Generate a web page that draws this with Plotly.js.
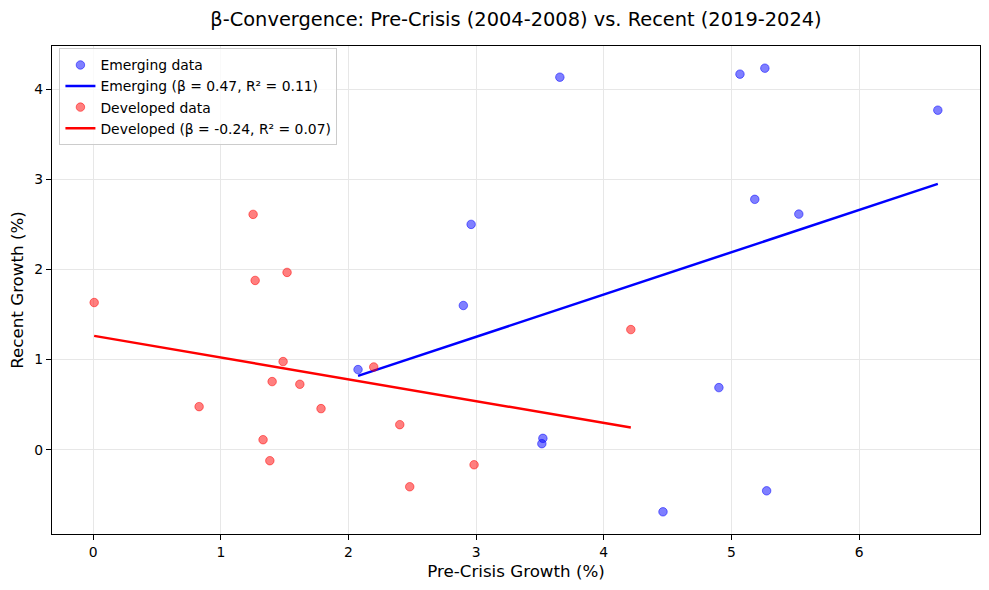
<!DOCTYPE html>
<html>
<head>
<meta charset="utf-8">
<script src="https://cdn.plot.ly/plotly-3.0.1.min.js"></script>
<style>html,body{margin:0;padding:0;background:#fff;}#chart{width:989px;height:590px;}</style>
</head>
<body>
<div id="chart"></div>
<script>
// Emerging economies: pre-crisis growth (x) vs recent growth (y), %
const emergingPre    = [3.656, 5.067, 5.262, 6.617, 5.183, 5.528, 2.961, 2.900, 3.523, 3.515, 4.902, 5.276, 4.464, 2.075];
const emergingRecent = [4.133, 4.167, 4.233, 3.767, 2.778, 2.614, 2.500, 1.600, 0.126, 0.067, 0.689, -0.456, -0.689, 0.889];
// Developed economies
const developedPre    = [0.008, 1.253, 1.269, 1.519, 1.488, 1.402, 1.619, 0.830, 1.785, 2.198, 2.402, 1.331, 1.384, 2.480, 2.984, 4.212];
const developedRecent = [1.633, 2.611, 1.878, 1.967, 0.978, 0.756, 0.726, 0.478, 0.456, 0.918, 0.278, 0.111, -0.122, -0.411, -0.167, 1.333];

const xTicks = [0, 1, 2, 3, 4, 5, 6];
const yTicks = [0, 1, 2, 3, 4];

function fit(x, y) {
  const n = x.length;
  const mx = x.reduce((a, b) => a + b, 0) / n;
  const my = y.reduce((a, b) => a + b, 0) / n;
  let sxy = 0, sxx = 0, syy = 0;
  for (let i = 0; i < n; i++) {
    sxy += (x[i] - mx) * (y[i] - my);
    sxx += (x[i] - mx) ** 2;
    syy += (y[i] - my) ** 2;
  }
  const b = sxy / sxx;
  const a = my - b * mx;
  const r2 = (sxy * sxy) / (sxx * syy);
  return {a, b, r2};
}

function lineOf(x, f) {
  const xs = [Math.min(...x), Math.max(...x)];
  return {x: xs, y: xs.map(v => f.a + f.b * v)};
}

const fe = fit(emergingPre, emergingRecent);
const fd = fit(developedPre, developedRecent);
const le = lineOf(emergingPre, fe);
const ld = lineOf(developedPre, fd);

const font = 'DejaVu Sans, sans-serif';

const traces = [
  {x: emergingPre, y: emergingRecent, mode: 'markers', type: 'scatter', name: 'Emerging data',
   marker: {color: 'rgba(0,0,255,0.5)', size: 8.5, line: {color: 'rgba(0,0,255,0.5)', width: 1}}},
  {x: le.x, y: le.y, mode: 'lines', type: 'scatter',
   name: `Emerging (β = ${fe.b.toFixed(2)}, R² = ${fe.r2.toFixed(2)})`,
   line: {color: 'blue', width: 2.5}},
  {x: developedPre, y: developedRecent, mode: 'markers', type: 'scatter', name: 'Developed data',
   marker: {color: 'rgba(255,0,0,0.5)', size: 8.5, line: {color: 'rgba(255,0,0,0.5)', width: 1}}},
  {x: ld.x, y: ld.y, mode: 'lines', type: 'scatter',
   name: `Developed (β = ${fd.b.toFixed(2)}, R² = ${fd.r2.toFixed(2)})`,
   line: {color: 'red', width: 2.5}}
];

const allX = emergingPre.concat(developedPre);
const allY = emergingRecent.concat(developedRecent);
const xmin = Math.min(...allX), xmax = Math.max(...allX);
const ymin = Math.min(...allY), ymax = Math.max(...allY);
const px = 0.05 * (xmax - xmin), py = 0.05 * (ymax - ymin);

const layout = {
  width: 989, height: 590,
  margin: {l: 52, r: 9, t: 46, b: 56},
  paper_bgcolor: 'white', plot_bgcolor: 'white',
  font: {family: font, color: 'black', size: 13.9},
  title: {text: 'β-Convergence: Pre-Crisis (2004-2008) vs. Recent (2019-2024)',
          font: {family: font, size: 19.4, color: 'black'},
          x: 0.5, xref: 'paper', xanchor: 'center', y: 1 - 19/590, yref: 'container', yanchor: 'middle'},
  xaxis: {range: [xmin - px, xmax + px], tickvals: xTicks, ticktext: xTicks.map(String),
          showgrid: true, gridcolor: '#e7e7e7', gridwidth: 1, zeroline: false,
          showline: true, linecolor: 'black', linewidth: 1.1, mirror: true,
          ticks: 'outside', ticklen: 5, tickwidth: 1, tickcolor: 'black',
          tickfont: {family: font, size: 13.9, color: 'black'},
          title: {text: 'Pre-Crisis Growth (%)', font: {family: font, size: 16.7, color: 'black'}, standoff: 6}},
  yaxis: {range: [ymin - py, ymax + py], tickvals: yTicks, ticktext: yTicks.map(String),
          showgrid: true, gridcolor: '#e7e7e7', gridwidth: 1, zeroline: false,
          showline: true, linecolor: 'black', linewidth: 1.1, mirror: true,
          ticks: 'outside', ticklen: 5, tickwidth: 1, tickcolor: 'black',
          tickfont: {family: font, size: 13.9, color: 'black'},
          title: {text: 'Recent Growth (%)', font: {family: font, size: 16.7, color: 'black'}, standoff: 6}},
  showlegend: true,
  legend: {x: 0.008, y: 0.995, xanchor: 'left', yanchor: 'top', traceorder: 'normal',
           bgcolor: 'rgba(255,255,255,0.8)', bordercolor: '#cccccc', borderwidth: 1,
           font: {family: font, size: 13.9, color: 'black'}, tracegroupgap: 0}
};

Plotly.newPlot('chart', traces, layout, {displayModeBar: false, responsive: false});
</script>
</body>
</html>
